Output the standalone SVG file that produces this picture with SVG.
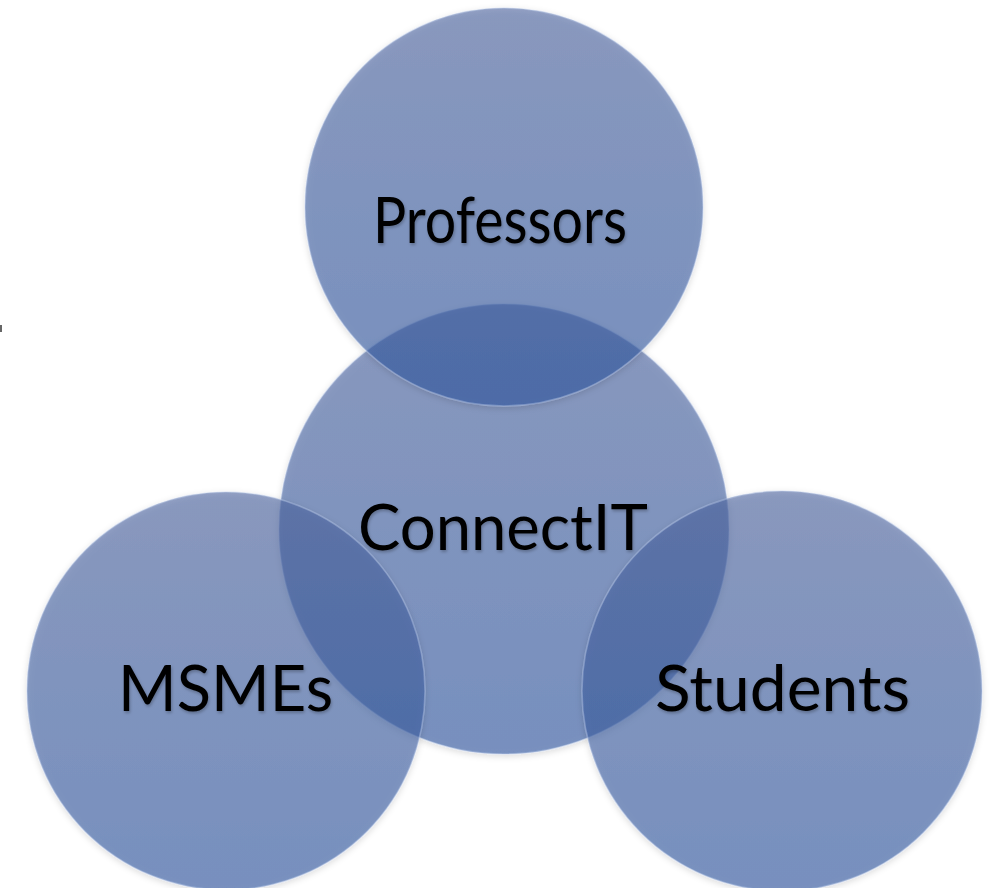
<svg xmlns="http://www.w3.org/2000/svg" width="995" height="888" viewBox="0 0 995 888">
<defs>
<linearGradient id="g" x1="0" y1="0" x2="0" y2="1">
<stop offset="0" stop-color="rgb(78,102,160)"/>
<stop offset="1" stop-color="rgb(48,88,162)"/>
</linearGradient>
<filter id="sh" x="-10%" y="-10%" width="120%" height="125%">
<feDropShadow dx="0" dy="2" stdDeviation="3" flood-color="#000" flood-opacity="0.22"/>
</filter>
<filter id="ts" x="-5%" y="-20%" width="110%" height="150%">
<feDropShadow dx="1" dy="2" stdDeviation="1.5" flood-color="#000" flood-opacity="0.25"/>
</filter>
</defs>
<style>
.c{fill:url(#g);fill-opacity:0.6;stroke:rgb(190,205,235);stroke-opacity:0.4;stroke-width:1.5;filter:url(#sh)}
.t{font-family:Lato,"Open Sans","Liberation Sans",sans-serif;font-size:64px;fill:#000;text-anchor:middle;filter:url(#ts)}
</style>
<rect width="995" height="888" fill="#fff"/>
<rect x="0" y="325" width="2" height="7" fill="#666"/>
<g id="connectit"><circle class="c" cx="504" cy="529" r="225"/></g>
<g id="professors"><circle class="c" cx="504" cy="207" r="199"/></g>
<g id="msmes"><circle class="c" cx="226" cy="691" r="199"/></g>
<g id="students"><circle class="c" cx="782" cy="691" r="200"/></g>
<g id="labels">
<text class="t" x="500" y="243" textLength="254" lengthAdjust="spacingAndGlyphs">Professors</text>
<text class="t" x="503" y="550" textLength="290" lengthAdjust="spacingAndGlyphs">ConnectIT</text>
<text class="t" x="225.5" y="711" textLength="215" lengthAdjust="spacingAndGlyphs">MSMEs</text>
<text class="t" x="782.5" y="711" textLength="255" lengthAdjust="spacingAndGlyphs">Students</text>
</g>
<g id="connectors"/>
</svg>
